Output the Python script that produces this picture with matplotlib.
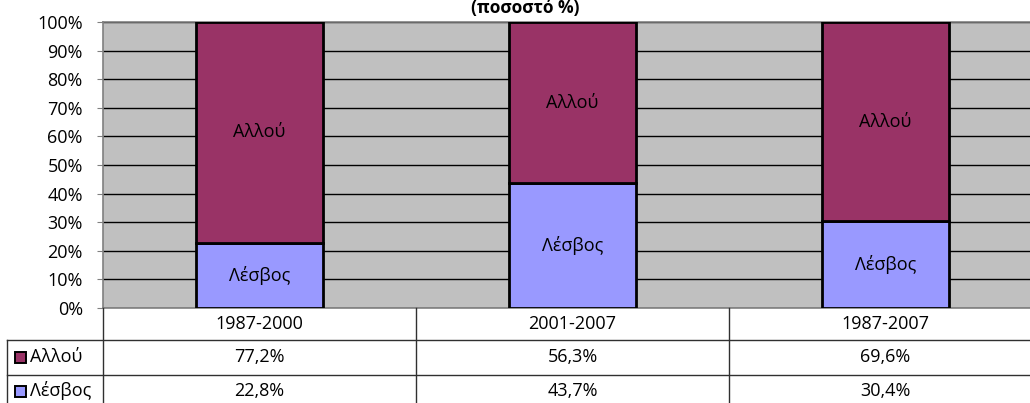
import matplotlib
matplotlib.use("Agg")
import matplotlib.pyplot as plt
from matplotlib.patches import Rectangle

# ---- data ----
periods = ["1987-2000", "2001-2007", "1987-2007"]
lesvos = [22.8, 43.7, 30.4]
allou = [77.2, 56.3, 69.6]
series_names = ["Αλλού", "Λέσβος"]
c_allou = "#993366"
c_lesvos = "#9999FF"

plt.rcParams["font.family"] = ["Open Sans", "DejaVu Sans"]
fs = 13

W, H = 1030, 403
fig = plt.figure(figsize=(W / 100, H / 100), dpi=100)

# plot area (pixel geometry, extends slightly past the right edge like the source)
left, right, top, bottom = 103, 1042, 22, 308
ax = fig.add_axes([left / W, (H - bottom) / H, (right - left) / W, (bottom - top) / H])
ax.set_facecolor("#C0C0C0")
x = range(len(periods))
ax.bar(x, lesvos, width=0.405, color=c_lesvos, edgecolor="black", linewidth=2, zorder=3)
ax.bar(x, allou, width=0.405, bottom=lesvos, color=c_allou, edgecolor="black", linewidth=2, zorder=3)
for i in x:
    ax.text(i, lesvos[i] / 2, "Λέσβος", ha="center", va="center", fontsize=fs, zorder=4)
    ax.text(i, lesvos[i] + allou[i] / 2, "Αλλού", ha="center", va="center", fontsize=fs, zorder=4)

ax.set_xlim(-0.5, 2.5)
ax.set_ylim(0, 100)
ax.set_yticks(range(0, 101, 10))
ax.set_yticklabels([f"{v}%" for v in range(0, 101, 10)], fontsize=fs)
ax.set_xticks([])
ax.yaxis.grid(True, color="black", linewidth=1, zorder=1)
ax.set_axisbelow(True)
for s in ax.spines.values():
    s.set_color("#808080")
    s.set_linewidth(1.2)
ax.tick_params(axis="y", length=4.5, color="#808080", pad=10)

fig.text(525 / W, 1 - 8 / H, "(ποσοστό %)", ha="center", va="center", fontsize=12.5, fontweight="bold")

# ---- data table below ----
tab = fig.add_axes([left / W, 0, (right - left) / W, (H - bottom) / H])
tab.set_xlim(-0.5, 2.5)
tab.set_ylim(H - bottom, 0)  # pixel rows, 0 at top of table
tab.axis("off")
px = 3.0 / (right - left)  # data units per pixel in x
lc = "#303030"
r1, r2 = 340 - bottom, 375 - bottom
x_leftcol = -0.5 - (left - 7) * px
kw = dict(color=lc, linewidth=1, clip_on=False)
tab.plot([x_leftcol, 2.5], [r1, r1], **kw)
tab.plot([x_leftcol, 2.5], [r2, r2], **kw)
tab.plot([x_leftcol, x_leftcol], [r1, H - bottom], **kw)
for b in [-0.5, 0.5, 1.5]:
    tab.plot([b, b], [0, H - bottom], **kw)

for i, p in enumerate(periods):
    tab.text(i, (0 + r1) / 2, p, ha="center", va="center", fontsize=fs)
    tab.text(i, (r1 + r2) / 2, f"{allou[i]:.1f}%".replace(".", ","), ha="center", va="center", fontsize=fs)
    tab.text(i, (r2 + H - bottom) / 2 + 2, f"{lesvos[i]:.1f}%".replace(".", ","), ha="center", va="center", fontsize=fs)

for (y0, y1), name, col in [((r1, r2), series_names[0], c_allou), ((r2, H - bottom), series_names[1], c_lesvos)]:
    yc = (y0 + y1) / 2 + (2 if y0 == r2 else 0)
    tab.add_patch(Rectangle((-0.5 - (left - 15) * px, yc - 5.5), 11 * px, 11, facecolor=col,
                            edgecolor="black", linewidth=1.4, clip_on=False))
    tab.text(-0.5 - (left - 30) * px, yc, name, ha="left", va="center", fontsize=fs)

plt.savefig("out.png", dpi=100)
